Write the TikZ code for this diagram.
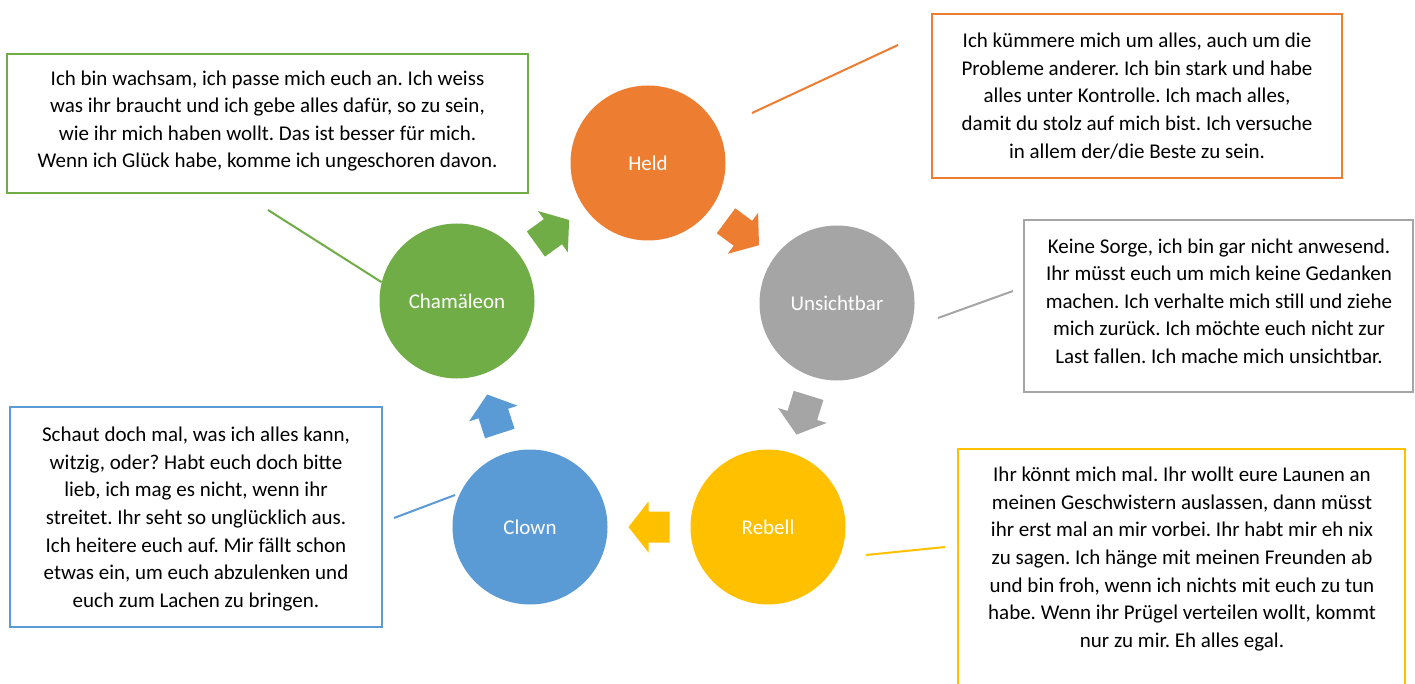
\documentclass[tikz,border=0pt]{standalone}
\usepackage{fontspec}
\setmainfont{Carlito}
\usetikzlibrary{calc}
\definecolor{cOrange}{HTML}{ED7D31}
\definecolor{cGrey}{HTML}{A5A5A5}
\definecolor{cGreen}{HTML}{70AD47}
\definecolor{cBlue}{HTML}{5B9BD5}
\definecolor{cYellow}{HTML}{FFC000}
\frenchspacing
\newcommand\cyclearrow[3]{%
  \coordinate (am) at ($(#1)!0.5!(#2)$);
  \coordinate (at) at ($(am)!20.5pt!(#2)$);
  \coordinate (ah) at ($(am)!0.5pt!(#2)$);
  \coordinate (ab) at ($(am)!20.5pt!180:(#2)$);
  \fill[#3] (at) -- ($(ah)!25.5pt!90:(#2)$) -- ($(ah)!15.5pt!90:(#2)$)
    -- ($(ab)!15.5pt!90:(#2)$) -- ($(ab)!15.5pt!-90:(#2)$)
    -- ($(ah)!15.5pt!-90:(#2)$) -- ($(ah)!25.5pt!-90:(#2)$) -- cycle;
}
\begin{document}
\begin{tikzpicture}[x=1pt,y=-1pt,
  role/.style={circle, fill=#1, minimum size=155pt, inner sep=0pt, text=white,
    font=\fontsize{21}{25}\selectfont},
  frame/.style={draw=#1, line width=2pt, rectangle, inner sep=0pt},
  boxtext/.style={align=center, inner sep=0pt, text=black,
    font=\fontsize{21}{27.6}\selectfont},
  leader/.style={draw=#1, line width=2pt},
]
\clip (0,0) rectangle (1415,684);
\fill[white] (0,0) rectangle (1415,684);

% free ends of the leader lines
\coordinate (lg1) at (268,210);
\coordinate (lo1) at (752,113);
\coordinate (lo2) at (898,45);
\coordinate (lgr1) at (938,318);
\coordinate (lgr2) at (1013,291);
\coordinate (lb1) at (394,518);
\coordinate (lb2) at (455,495);
\coordinate (ly1) at (866,555);
\coordinate (ly2) at (945,547);

% circles
\node[role=cOrange] (held) at (648,163) {Held};
\node[role=cGrey] (unsicht) at (837,303) {Unsichtbar};
\node[role=cYellow] (rebell) at (768,527) {Rebell};
\node[role=cBlue] (clown) at (530,527) {Clown};
\node[role=cGreen] (cham) at (457,301) {Chamäleon};

\draw[leader=cGreen] (lg1) -- (cham.166);
\draw[leader=cOrange] (lo1) -- (lo2);
\draw[leader=cGrey] (lgr1) -- (lgr2);
\draw[leader=cBlue] (lb1) -- (lb2);
\draw[leader=cYellow] (ly1) -- (ly2);

% cycle arrows
\cyclearrow{cham}{held}{cGreen}
\cyclearrow{held}{unsicht}{cOrange}
\cyclearrow{unsicht}{rebell}{cGrey}
\cyclearrow{rebell}{clown}{cYellow}
\cyclearrow{clown}{cham}{cBlue}

% boxes
\node[frame=cGreen, minimum width=521pt, minimum height=139pt] (fgreen) at (267.5,123.5) {};
\node[boxtext] (tgreen) at (267.5,121) {Ich bin wachsam, ich passe mich euch an. Ich weiss\\
was ihr braucht und ich gebe alles dafür, so zu sein,\\
wie ihr mich haben wollt. Das ist besser für mich.\\
Wenn ich Glück habe, komme ich ungeschoren davon.};

\node[frame=cOrange, minimum width=410pt, minimum height=164pt] (forange) at (1137,96) {};
\node[boxtext] (torange) at (1137,96) {Ich kümmere mich um alles, auch um die\\
Probleme anderer. Ich bin stark und habe\\
alles unter Kontrolle. Ich mach alles,\\
damit du stolz auf mich bist. Ich versuche\\
in allem der/die Beste zu sein.};

\node[frame=cGrey, minimum width=389pt, minimum height=172pt] (fgrey) at (1218.5,306) {};
\node[boxtext] (tgrey) at (1219,301) {Keine Sorge, ich bin gar nicht anwesend.\\
Ihr müsst euch um mich keine Gedanken\\
machen. Ich verhalte mich still und ziehe\\
mich zurück. Ich möchte euch nicht zur\\
Last fallen. Ich mache mich unsichtbar.};

\node[frame=cBlue, minimum width=372pt, minimum height=220pt] (fblue) at (196,517) {};
\node[boxtext] (tblue) at (196,519) {Schaut doch mal, was ich alles kann,\\
witzig, oder? Habt euch doch bitte\\
lieb, ich mag es nicht, wenn ihr\\
streitet. Ihr seht so unglücklich aus.\\
Ich heitere euch auf. Mir fällt schon\\
etwas ein, um euch abzulenken und\\
euch zum Lachen zu bringen.};

\node[frame=cYellow, minimum width=447pt, minimum height=271pt] (fyellow) at (1181.5,584.5) {};
\node[boxtext] (tyellow) at (1182,559) {Ihr könnt mich mal. Ihr wollt eure Launen an\\
meinen Geschwistern auslassen, dann müsst\\
ihr erst mal an mir vorbei. Ihr habt mir eh nix\\
zu sagen. Ich hänge mit meinen Freunden ab\\
und bin froh, wenn ich nichts mit euch zu tun\\
habe. Wenn ihr Prügel verteilen wollt, kommt\\
nur zu mir. Eh alles egal.};
\end{tikzpicture}
\end{document}
